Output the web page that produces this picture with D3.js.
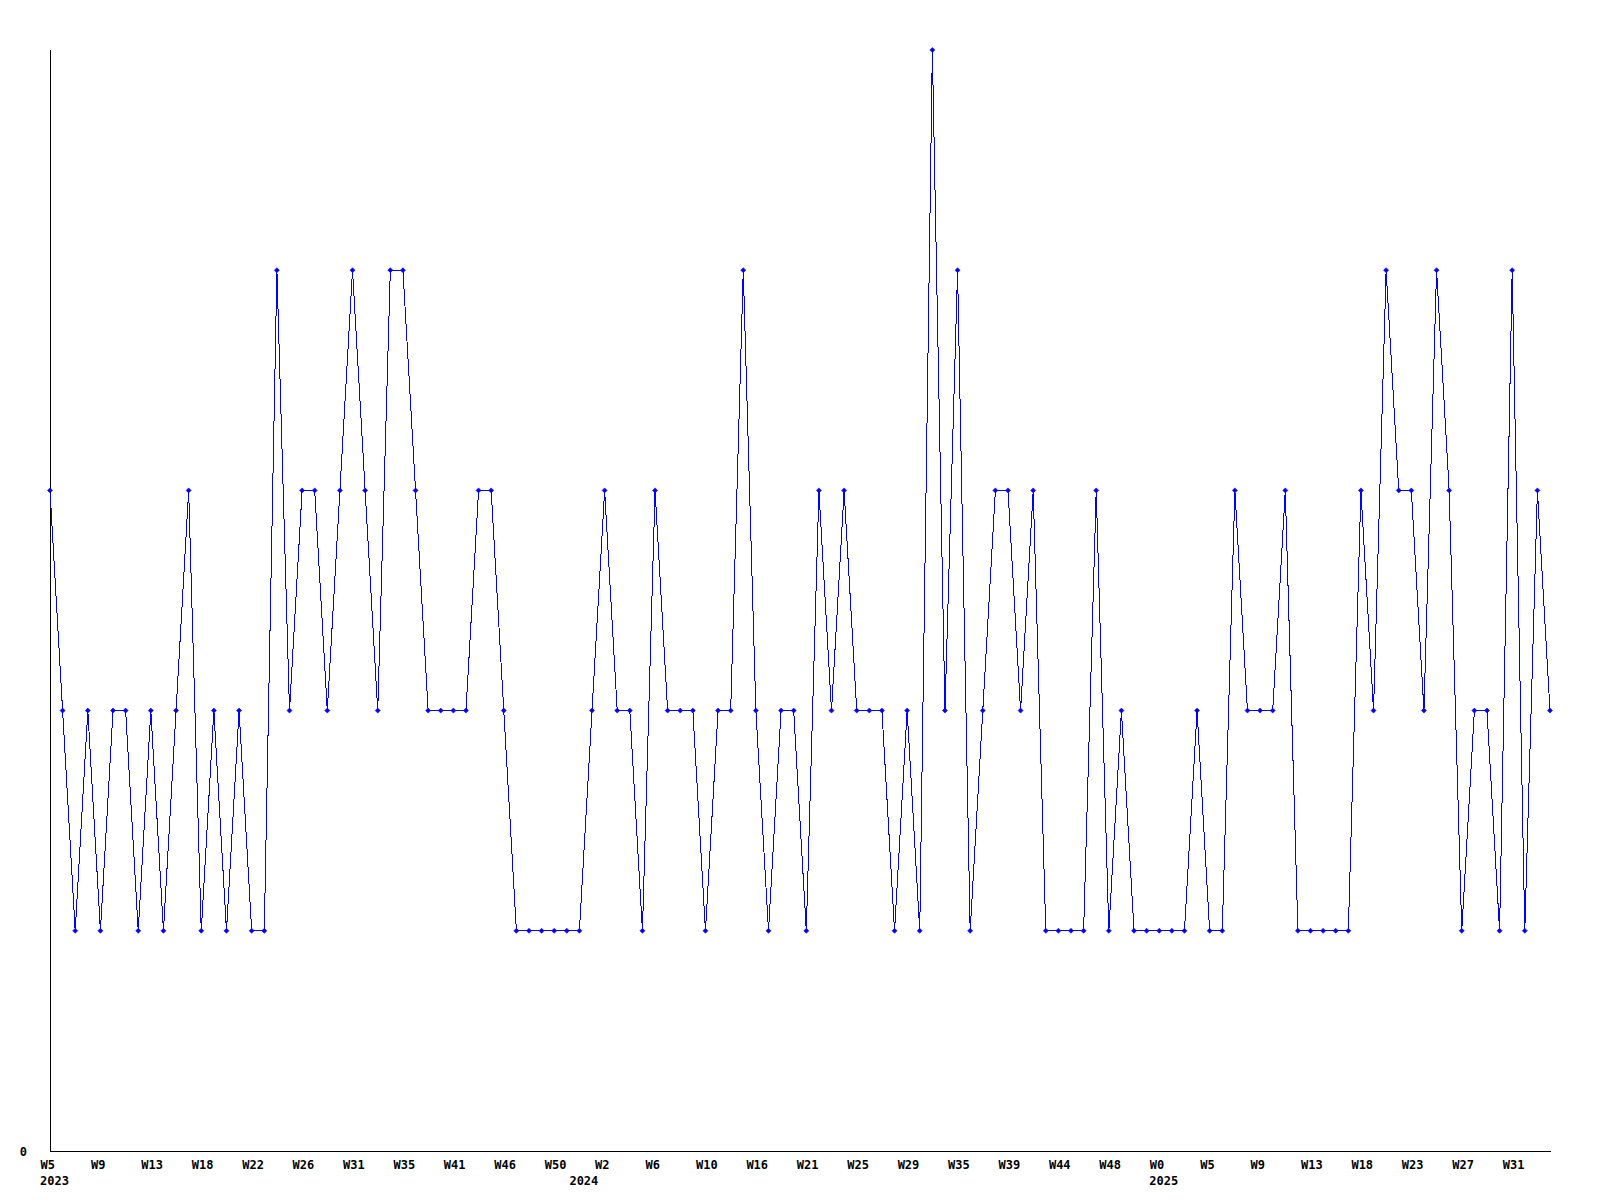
<!DOCTYPE html>
<html>
<head>
<meta charset="utf-8">
<script src="https://cdn.jsdelivr.net/npm/d3@7"></script>
<style>
  html, body { margin: 0; padding: 0; background: #ffffff; }
  svg { display: block; }
  .tick text { font-family: "DejaVu Sans Mono", monospace; font-weight: bold; font-size: 12px; fill: #000; }
  .year { font-family: "DejaVu Sans Mono", monospace; font-weight: bold; font-size: 12px; fill: #000; }
</style>
</head>
<body>
<script>
// ---- data ----
const values = [
  3,2,1,2,1,2,2,1,2,1, 2,3,1,2,1,2,1,1,4,2, 3,3,2,3,4,3,2,4,4,3, 2,2,2,2,3,3,2,1,1,1, 1,1,1,
  2,3,2,2,1,3,2,2,2,1, 2,2,4,2,1,2,2,1,3,2, 3,2,2,2,1,2,1,5,2,4, 1,2,3,3,2,3,1,1,1,
  1,3,1,2,1,1,1,1,1,2, 1,1,3,2,2,2,3,1,1,1, 1,1,3,2,4,3,3,2,4,3, 1,2,2,1,4,1,3,2
];
const weekTickIndex = [0,4,8,12,16,20,24,28,32,36,40,44,48,52,56,60,64,68,72,76,80,84,88,92,96,100,104,108,112,116];
const weekTickLabels = ["W5","W9","W13","W18","W22","W26","W31","W35","W41","W46","W50",
  "W2","W6","W10","W16","W21","W25","W29","W35","W39","W44","W48",
  "W0","W5","W9","W13","W18","W23","W27","W31"];
const yearIndex = [0,42,88];
const yearLabels = ["2023","2024","2025"];
const yTickValues = [0];
const yTickLabels = ["0"];

// ---- layout ----
const W = 1600, H = 1200;
const x0 = 50, x1 = 1550, yTop = 50, yBase = 1151;

const svg = d3.select("body").append("svg").attr("width", W).attr("height", H);

const x = d3.scaleLinear().domain([0, values.length - 1]).range([x0, x1]);
const y = d3.scaleLinear().domain([0, 5]).range([yBase, yTop]);

// x axis
const xAxis = d3.axisBottom(x)
  .tickValues(weekTickIndex)
  .tickFormat((d, i) => weekTickLabels[i])
  .tickSize(0)
  .tickPadding(0);
const gx = svg.append("g").attr("transform", `translate(0,${yBase})`).call(xAxis);
gx.select(".domain").attr("d", `M${x0 + 0.5},0.5H${x1 + 0.5}`).attr("stroke", "#000").attr("shape-rendering", "crispEdges");
gx.selectAll(".tick text")
  .attr("text-anchor", "start")
  .attr("x", -10)
  .attr("y", 18)
  .attr("dy", null);

// year labels
svg.append("g").selectAll("text").data(yearLabels).join("text")
  .attr("class", "year")
  .attr("x", (d, i) => x(yearIndex[i]) - 10)
  .attr("y", yBase + 34)
  .text(d => d);

// y axis
const yAxis = d3.axisLeft(y)
  .tickValues(yTickValues)
  .tickFormat((d, i) => yTickLabels[i])
  .tickSize(0)
  .tickPadding(23);
const gy = svg.append("g").attr("transform", `translate(${x0},0)`).call(yAxis);
gy.select(".domain").attr("d", `M0.5,${yTop}V${yBase + 0.5}`).attr("stroke", "#000").attr("shape-rendering", "crispEdges");
gy.selectAll(".tick text").attr("dy", "0.35em");

// line
const line = d3.line().x((d, i) => x(i)).y(d => y(d));
svg.append("path")
  .datum(values)
  .attr("fill", "none")
  .attr("stroke", "#0000ff")
  .attr("stroke-width", 1)
  .attr("shape-rendering", "crispEdges")
  .attr("d", line);

// markers
svg.append("g").selectAll("path").data(values).join("path")
  .attr("transform", (d, i) => `translate(${x(i)},${y(d)})`)
  .attr("d", "M0,-2.5L2.5,0L0,2.5L-2.5,0Z")
  .attr("fill", "#0000ff")
  .attr("stroke", "#0000ff")
  .attr("stroke-width", 0.6);
</script>
</body>
</html>
